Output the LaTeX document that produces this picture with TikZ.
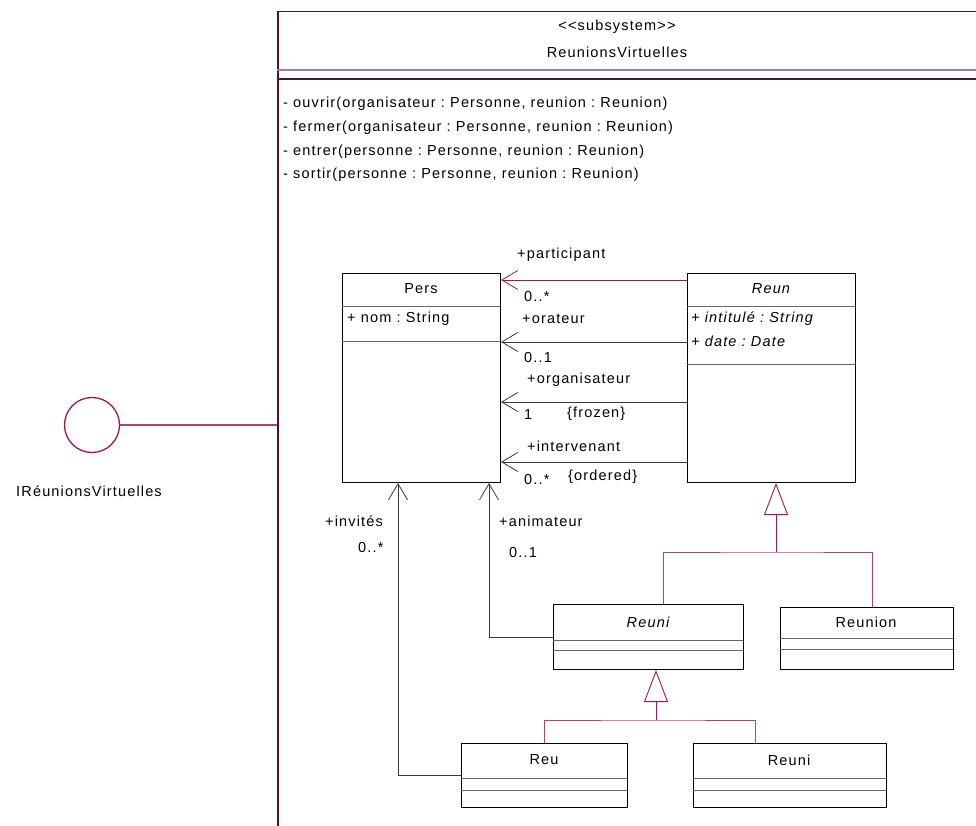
\documentclass[tikz,border=0pt]{standalone}
\usepackage{fontspec}
\setmainfont{Liberation Sans}[Ligatures=TeXOff, LetterSpace=8]
\usetikzlibrary{arrows.meta}
\definecolor{pkgpurple}{HTML}{4A1048}
\definecolor{pkglight}{HTML}{A07CA0}
\definecolor{crimson}{HTML}{A3164A}
\definecolor{crimsonlt}{HTML}{B8426C}
\definecolor{linegray}{HTML}{3A3A3A}
\frenchspacing
\begin{document}
\begin{tikzpicture}[x=1pt,y=-1pt,
  txt/.style={inner sep=0pt, font=\fontsize{14.5}{16}\selectfont},
  itxt/.style={txt, font=\fontsize{14.5}{16}\selectfont\itshape},
  classbox/.style={draw=black, line width=1pt, fill=white, inner sep=0pt, anchor=north west},
  sepline/.style={draw=gray!80!black, line width=0.8pt},
  assoc/.style={draw=linegray, line width=0.8pt, -{Straight Barb[length=16pt,width=19pt,line width=0.8pt]}},
  assocred/.style={assoc, draw=crimson},
  gen/.style={draw=crimsonlt, line width=1pt},
  gentip/.style={draw=crimson, line width=0.9pt, -{Triangle[open, length=32pt, width=24pt, fill=white, line width=0.9pt]}}
]
\useasboundingbox (0,0) rectangle (976,826);

% subsystem package
\node[draw=pkgpurple, line width=1.5pt, minimum width=740pt, minimum height=840pt,
      anchor=north west, inner sep=0pt] (pkg) at (277,11) {};
\draw[pkglight, line width=1.6pt] (pkg.west |- 0,70) -- (990,70);
\draw[pkgpurple, line width=1.2pt] (pkg.west |- 0,79) -- (990,79);
\node[txt] (stereo) at (617,27) {<<subsystem>>};
\node[txt] (pkgname) at (617,52) {ReunionsVirtuelles};
\node[txt, anchor=west] (op1) at (283,104) {- ouvrir(organisateur : Personne, reunion : Reunion)};
\node[txt, anchor=west] (op2) at (283,128) {- fermer(organisateur : Personne, reunion : Reunion)};
\node[txt, anchor=west] (op3) at (283,152) {- entrer(personne : Personne, reunion : Reunion)};
\node[txt, anchor=west] (op4) at (283,175) {- sortir(personne : Personne, reunion : Reunion)};

% interface lollipop
\node[draw=crimson, line width=1.3pt, circle, minimum size=55pt, inner sep=0pt] (iface) at (92,425) {};
\draw[crimsonlt, line width=1.1pt] (iface.east) -- (pkg.west |- iface.east);
\node[txt] (ifacename) at (89,491) {IRéunionsVirtuelles};

% class Pers
\node[classbox, minimum width=158pt, minimum height=209pt] (pers) at (342,273) {};
\draw[sepline] (342,306) -- (500,306);
\draw[sepline] (342,341) -- (500,341);
\node[txt] (persname) at (421,289) {Pers};
\node[txt, anchor=west] (persattr) at (347,319) {+ nom : String};

% class Reun (abstract)
\node[classbox, minimum width=168pt, minimum height=209pt] (reun) at (687,273) {};
\draw[sepline] (687,306) -- (855,306);
\draw[sepline] (687,364) -- (855,364);
\node[itxt] (reunname) at (771,289) {Reun};
\node[itxt, anchor=west] (reunattr1) at (691,319) {+ intitulé : String};
\node[itxt, anchor=west] (reunattr2) at (691,341) {+ date : Date};

% class Reuni (abstract)
\node[classbox, minimum width=190pt, minimum height=65pt] (reuniA) at (553,604) {};
\draw[sepline] (553,640) -- (743,640);
\draw[sepline] (553,650) -- (743,650);
\node[itxt] (reuniAname) at (648,622) {Reuni};

% class Reunion
\node[classbox, minimum width=173pt, minimum height=62pt] (reunion) at (780,607) {};
\draw[sepline] (780,638) -- (953,638);
\draw[sepline] (780,649) -- (953,649);
\node[txt] (reunionname) at (866,622) {Reunion};

% class Reu
\node[classbox, minimum width=166pt, minimum height=64pt] (reu) at (461,743) {};
\draw[sepline] (461,778) -- (627,778);
\draw[sepline] (461,790) -- (627,790);
\node[txt] (reuname) at (544,760) {Reu};

% class Reuni
\node[classbox, minimum width=193pt, minimum height=64pt] (reuniB) at (693,743) {};
\draw[sepline] (693,778) -- (886,778);
\draw[sepline] (693,790) -- (886,790);
\node[txt] (reuniBname) at (789,760) {Reuni};

% associations Reun -> Pers
\coordinate (yPart) at (0,280);
\coordinate (yOrat) at (0,342);
\coordinate (yOrga) at (0,402);
\coordinate (yInte) at (0,462);
\draw[assocred] (reun.west |- yPart) -- (pers.east |- yPart);
\draw[assoc] (reun.west |- yOrat) -- (pers.east |- yOrat);
\draw[assoc] (reun.west |- yOrga) -- (pers.east |- yOrga);
\draw[assoc] (reun.west |- yInte) -- (pers.east |- yInte);
\node[txt, anchor=west] (lPart) at (517,255) {+participant};
\node[txt, anchor=west] (mPart) at (524,297) {0..*};
\node[txt, anchor=west] (lOrat) at (522,319) {+orateur};
\node[txt, anchor=west] (mOrat) at (524,358) {0..1};
\node[txt, anchor=west] (lOrga) at (527,380) {+organisateur};
\node[txt, anchor=west] (mOrga) at (524,415) {1};
\node[txt, anchor=west] (cOrga) at (567,414) {\{frozen\}};
\node[txt, anchor=west] (lInte) at (527,446) {+intervenant};
\node[txt, anchor=west] (mInte) at (524,480) {0..*};
\node[txt, anchor=west] (cInte) at (568,477) {\{ordered\}};

% associations up to Pers
\coordinate (xInv) at (398,0);
\coordinate (xAnim) at (489,0);
\draw[assoc] (reu.west) -| (pers.south -| xInv);
\draw[assoc] (reuniA.west) -| (pers.south -| xAnim);
\node[txt, anchor=west] (lInv) at (325,521) {+invités};
\node[txt, anchor=west] (mInv) at (358,548) {0..*};
\node[txt, anchor=west] (lAnim) at (499,521) {+animateur};
\node[txt, anchor=west] (mAnim) at (509,553) {0..1};

% generalisation into Reun
\coordinate (g1) at (776,552);
\draw[gen] (reuniA.north -| 663,0) |- (g1) -| (reunion.north -| 872,0);
\draw[gentip] (g1) -- (reun.south -| g1);

% generalisation into Reuni
\coordinate (g2) at (656,720);
\draw[gen] (reu.north -| 544,0) |- (g2) -| (reuniB.north -| 755,0);
\draw[gentip] (g2) -- (reuniA.south -| g2);
\end{tikzpicture}
\end{document}
